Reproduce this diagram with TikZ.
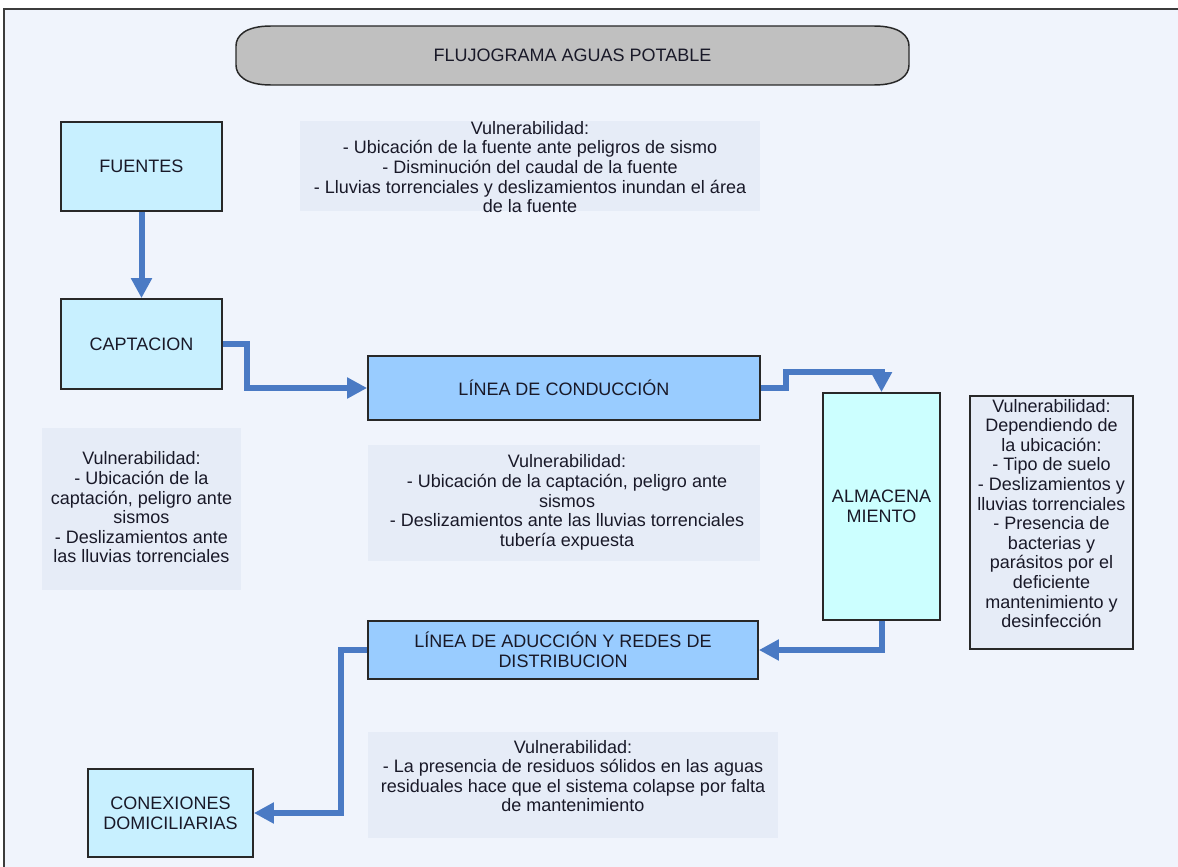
\documentclass[tikz,border=0pt]{standalone}
\usepackage{fontspec}
\setmainfont{Liberation Sans}
\usetikzlibrary{arrows.meta}
\definecolor{bgc}{RGB}{240,244,252}
\definecolor{framec}{RGB}{60,60,60}
\definecolor{vulnc}{RGB}{230,236,247}
\definecolor{lightcyan}{RGB}{200,240,255}
\definecolor{almc}{RGB}{204,255,255}
\definecolor{lineac}{RGB}{153,204,255}
\definecolor{titlec}{RGB}{192,192,192}
\definecolor{arrowc}{RGB}{74,122,196}
\definecolor{borderc}{RGB}{40,40,40}
\definecolor{txtc}{RGB}{25,25,40}
\newcommand{\vfont}{\fontsize{13.5pt}{14.7pt}\selectfont}
\begin{document}
\begin{tikzpicture}[x=0.75pt,y=-0.75pt,
  sz/.style 2 args={minimum width=#1*0.75pt, minimum height=#2*0.75pt},
  mainbox/.style={draw=borderc, line width=1.3pt, inner sep=0pt, align=center, font=\vfont, text=txtc},
  vulnbox/.style={fill=vulnc, inner sep=0pt},
  vtext/.style={align=center, font=\vfont, text=txtc, inner sep=0pt},
  flow/.style={draw=arrowc, line width=4.5pt, -{Triangle[length=15pt,width=15pt]}}]
\useasboundingbox (0,0) rectangle (1178,867);
\clip (0,0) rectangle (1178,867);
\fill[white] (0,0) rectangle (1178,867);
\draw[fill=bgc, draw=framec, line width=1.1pt] (4,9) rectangle (1200,900);

% title
\draw[fill=titlec, draw=borderc, line width=1.1pt]
  (271,26) -- (874,26) .. controls (900,26) and (909,36) .. (909,46)
  -- (909,65) .. controls (909,75) and (900,85) .. (874,85)
  -- (271,85) .. controls (245,85) and (236,75) .. (236,65)
  -- (236,46) .. controls (236,36) and (245,26) .. (271,26) -- cycle;
\node[vtext] (title) at (572.5,55) {FLUJOGRAMA AGUAS POTABLE};

% vulnerability boxes
\node[vulnbox, sz={460}{90}] (v1box) at (530,166) {};
\node[vtext] (v1) at (530,167) {Vulnerabilidad:\\- Ubicación de la fuente ante peligros de sismo\\- Disminución del caudal de la fuente\\- Lluvias torrenciales y deslizamientos inundan el área\\de la fuente};

\node[vulnbox, sz={199}{162}] (v2box) at (141.5,509) {};
\node[vtext] (v2) at (141.5,507.5) {Vulnerabilidad:\\- Ubicación de la\\captación, peligro ante\\sismos\\- Deslizamientos ante\\las lluvias torrenciales};

\node[vulnbox, sz={392}{116}] (v3box) at (564,503) {};
\node[vtext] (v3) at (567,502.5) {Vulnerabilidad:\\- Ubicación de la captación, peligro ante\\sismos\\- Deslizamientos ante las lluvias torrenciales\\tubería expuesta};

\node[vulnbox, draw=borderc, line width=1.1pt, sz={163}{253}] (v4box) at (1051.5,522.5) {};
\node[vtext] (v4) at (1051.5,513.5) {Vulnerabilidad:\\Dependiendo de\\la ubicación:\\- Tipo de suelo\\- Deslizamientos y\\lluvias torrenciales\\- Presencia de\\bacterias y\\parásitos por el\\deficiente\\mantenimiento y\\desinfección};

\node[vulnbox, sz={410}{106}] (v5box) at (573,785) {};
\node[vtext] (v5) at (573,776) {Vulnerabilidad:\\- La presencia de residuos sólidos en las aguas\\residuales hace que el sistema colapse por falta\\de mantenimiento};

% main boxes
\node[mainbox, fill=lightcyan, sz={161}{89}] (fuentes) at (141.5,166.5) {FUENTES};
\node[mainbox, fill=lightcyan, sz={161}{90}] (captacion) at (141.5,344) {CAPTACION};
\node[mainbox, fill=lineac, sz={392}{64}] (conduccion) at (564,388) {LÍNEA DE CONDUCCIÓN};
\node[mainbox, fill=almc, sz={117}{227}] (almac) at (881.5,506.5) {ALMACENA\\MIENTO};
\node[mainbox, fill=lineac, sz={390}{58}] (aduccion) at (563,650) {LÍNEA DE ADUCCIÓN Y REDES DE\\DISTRIBUCION};
\node[mainbox, fill=lightcyan, sz={165}{88}] (conexiones) at (170.5,813) {CONEXIONES\\DOMICILIARIAS};

% connectors
\draw[flow] (fuentes.south) -- (captacion.north);
\draw[flow] (captacion.east) -- ++(24,0) |- (conduccion.west);
\draw[flow] (conduccion.east) -- ++(25,0) -- ++(0,-16) -| (almac.north);
\draw[flow] (almac.south) |- (aduccion.east);
\draw[flow] (aduccion.west) -- ++(-26,0) |- (conexiones.east);
\end{tikzpicture}
\end{document}
